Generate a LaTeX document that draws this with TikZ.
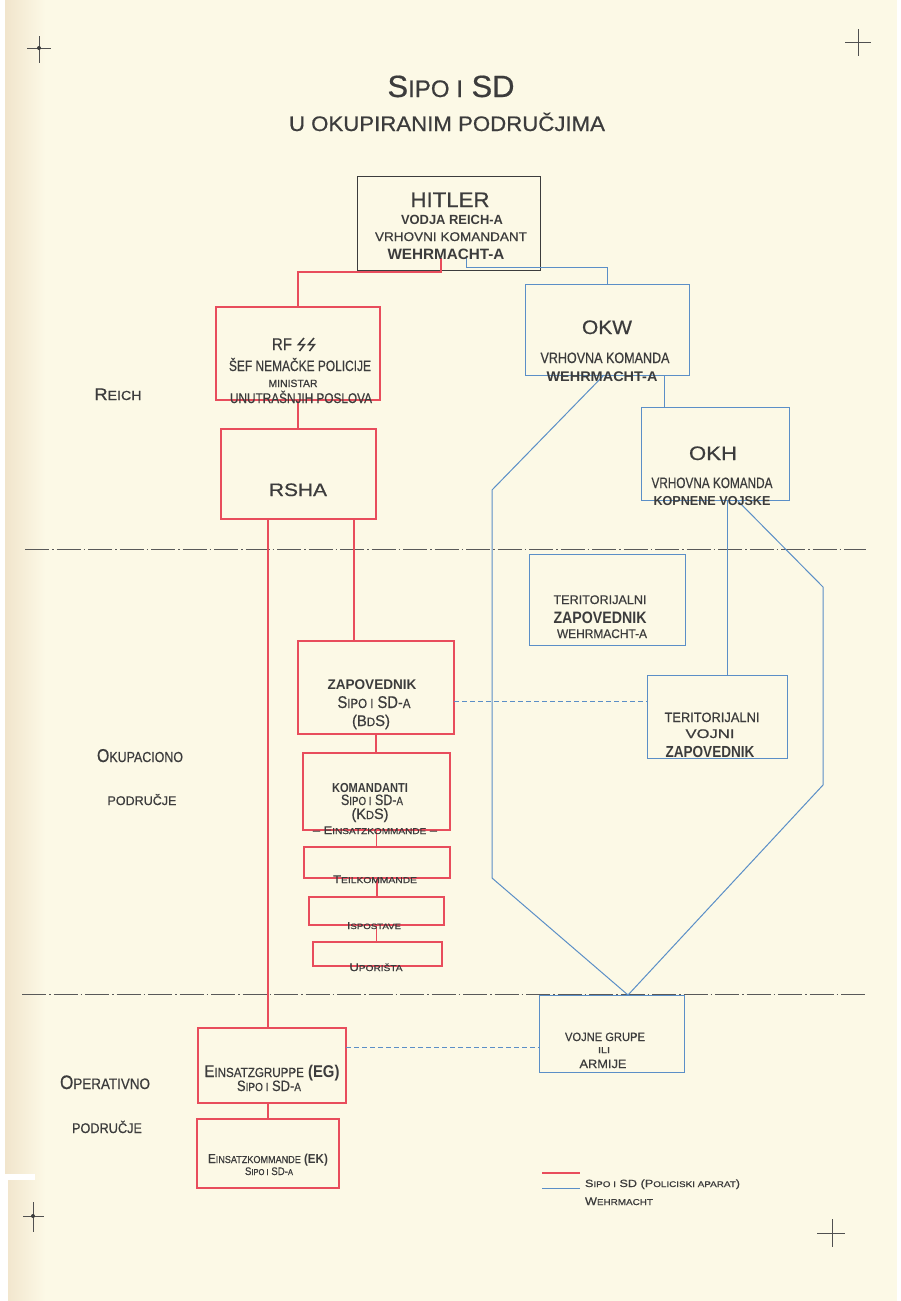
\documentclass[tikz,border=0pt]{standalone}
\usepackage{fontspec}
\setmainfont{Liberation Sans}[UprightFeatures={FakeBold=0.6}]
\usepackage{graphicx}
\usetikzlibrary{calc}
\definecolor{paper}{HTML}{FCF9E6}
\definecolor{paperedge}{HTML}{F1E5CC}
\definecolor{rl}{HTML}{E84D5C}
\definecolor{bl}{HTML}{5B8FC7}
\definecolor{ink}{HTML}{3C3C3C}
\makeatletter
\newcommand\sm[1]{{\fontsize{\fpeval{0.78*\f@size}}{0}\selectfont #1}}
\newcommand\fit[3]{{\fontsize{#2}{#2}\selectfont\resizebox{#1pt}{\height}{#3}}}
\makeatother
\tikzset{
  txt/.style={inner sep=0pt, outer sep=0pt, text=ink, anchor=base},
  ltxt/.style={inner sep=0pt, outer sep=0pt, text=ink, anchor=base west},
  rbox/.style={draw=rl, line width=1.2pt, inner sep=0pt, outer sep=0pt, anchor=north west},
  bbox/.style={draw=bl, line width=1pt, inner sep=0pt, outer sep=0pt, anchor=north west},
  kbox/.style={draw=ink, line width=1pt, inner sep=0pt, outer sep=0pt, anchor=north west},
  redl/.style={draw=rl, line width=1.2pt},
  bluel/.style={draw=bl, line width=1pt},
  bdash/.style={draw=bl, line width=0.8pt, dash pattern=on 5pt off 3pt},
  divider/.style={draw=ink!85, line width=1pt, dash pattern=on 24pt off 3pt on 1.5pt off 3pt},
  cross/.style={draw=ink!90, line width=0.9pt},
}
\begin{document}
\begin{tikzpicture}[x=1pt,y=-1pt]
\useasboundingbox (0,0) rectangle (900,1301);
\fill[paper] (0,0) rectangle (900,1301);
\shade[left color=paperedge, right color=paper] (5,0) rectangle (45,1301);
\fill[white] (0,0) rectangle (5,1301);
\fill[white] (0,1174) rectangle (35,1180);
\fill[white] (0,1180) rectangle (8,1301);
\fill[white] (897,0) rectangle (900,1301);

% corner marks
\draw[cross] (39,36) -- (39,63) (27,48) -- (51,48);
\fill[ink] (39,48) circle (2pt);
\draw[cross] (858,29) -- (858,56) (845,42) -- (871,42);
\draw[cross] (33,1202) -- (33,1232) (23,1216) -- (44,1216);
\fill[ink] (33,1216) circle (2pt);
\draw[cross] (832,1219) -- (832,1247) (817,1233) -- (845,1233);

% title
\node[txt] (title1) at (451,97) {\fit{127}{30.7}{S\sm{IPO I} SD}};
\node[txt] (title2) at (447,131) {\fit{316}{21}{U OKUPIRANIM PODRUČJIMA}};

% dividers
\coordinate (d1a) at (25,549); \coordinate (d1b) at (866,549);
\coordinate (d2a) at (22,994); \coordinate (d2b) at (866,994);
\draw[divider] (d1a) -- (d1b);
\draw[divider] (d2a) -- (d2b);

% boxes
\node[kbox, minimum width=183pt, minimum height=94pt] (hitler) at (357,176) {};
\node[rbox, minimum width=164pt, minimum height=93pt] (rf) at (216,307) {};
\node[rbox, minimum width=155pt, minimum height=90pt] (rsha) at (221,429) {};
\node[bbox, minimum width=164pt, minimum height=91pt] (okw) at (525,284) {};
\node[bbox, minimum width=148pt, minimum height=93pt] (okh) at (641,407) {};
\node[bbox, minimum width=156pt, minimum height=91pt] (tzw) at (529,554) {};
\node[bbox, minimum width=140pt, minimum height=83pt] (tv) at (647,675) {};
\node[rbox, minimum width=156pt, minimum height=93pt] (bds) at (298,641) {};
\node[rbox, minimum width=147pt, minimum height=77pt] (kds) at (303,753) {};
\node[rbox, minimum width=146pt, minimum height=31pt] (teil) at (304,847) {};
\node[rbox, minimum width=135pt, minimum height=28pt] (isp) at (309,897) {};
\node[rbox, minimum width=129pt, minimum height=24pt] (upo) at (313,942) {};
\node[rbox, minimum width=148pt, minimum height=75pt] (eg) at (198,1028) {};
\node[rbox, minimum width=142pt, minimum height=69pt] (ek) at (197,1119) {};
\node[bbox, minimum width=145pt, minimum height=77pt] (vg) at (539,995) {};

% guide coordinates
\coordinate (hR) at (441,258);
\coordinate (hB) at (466,258);
\coordinate (gx354) at (354,0);
\coordinate (gx664) at (664,0);
\coordinate (gx727) at (727,0);
\coordinate (okwd) at (604,375);
\coordinate (lb1) at (492,490);
\coordinate (lb2) at (492,878);
\coordinate (okhd) at (737,500);
\coordinate (rb1) at (823,587);
\coordinate (rb2) at (823,785);
\coordinate (vgm) at (628,995);
\coordinate (gy701) at (0,701);
\coordinate (gy1047) at (0,1047);

% red connectors
\draw[redl] (hR) -- ++(0,14) -| (rf.north);
\draw[redl] (rf.south) -- (rf.south |- rsha.north);
\draw[redl] (rsha.south -| ek.north) -- (eg.north -| ek.north);
\draw[redl] (eg.south -| ek.north) -- (ek.north);
\draw[redl] (rsha.south -| gx354) -- (bds.north -| gx354);
\draw[redl] (bds.south) -- (bds.south |- kds.north);
\draw[redl] (kds.south) -- (kds.south |- teil.north);
\draw[redl] (teil.south) -- (teil.south |- isp.north);
\draw[redl] (isp.south) -- (isp.south |- upo.north);

% blue connectors
\draw[bluel] (hB) -- ++(0,9) -| (okw.north);
\draw[bluel] (okw.south -| gx664) -- (okh.north -| gx664);
\draw[bluel] (okh.south -| gx727) -- (tv.north -| gx727);
\draw[bluel] (okwd) -- (lb1) -- (lb2) -- (vgm);
\draw[bluel] (okhd) -- (rb1) -- (rb2) -- (vgm);
\draw[bdash] (bds.east |- gy701) -- (tv.west |- gy701);
\draw[bdash] (eg.east |- gy1047) -- (vg.west |- gy1047);

% HITLER texts
\node[txt] (h1) at (450,207) {\fit{79}{21}{HITLER}};
\node[txt] (h2) at (452,224) {\fit{102}{13.3}{\bfseries VODJA REICH-A}};
\node[txt] (h3) at (451,241) {\fit{152}{12.6}{VRHOVNI KOMANDANT}};
\node[txt] (h4) at (446,259) {\fit{117}{15}{\bfseries WEHRMACHT-A}};

% RF SS
\node[txt] (rf1) at (282,350) {\fit{20}{17}{RF}};
\draw[ink, line width=1.5pt, line join=miter] (304,338) -- (298.5,344.5) -- (304.5,344.5) -- (299.5,351);
\draw[ink, line width=1.5pt, line join=miter] (314,338) -- (308.5,344.5) -- (314.5,344.5) -- (309.5,351);
\node[txt] (rf2) at (300,371) {\fit{142}{15}{ŠEF NEMAČKE POLICIJE}};
\node[txt] (rf3) at (293,387) {\fit{49}{10.5}{MINISTAR}};
\node[txt] (rf4) at (301,403) {\fit{142}{14}{UNUTRAŠNJIH POSLOVA}};

\node[txt] (rsha1) at (298,496) {\fit{58}{18}{RSHA}};

% OKW / OKH
\node[txt] (okw1) at (607,334) {\fit{50}{19.5}{OKW}};
\node[txt] (okw2) at (605,363) {\fit{129}{15}{VRHOVNA KOMANDA}};
\node[txt] (okw3) at (602,381) {\fit{111}{14}{\bfseries WEHRMACHT-A}};
\node[txt] (okh1) at (713,460) {\fit{48}{19.5}{OKH}};
\node[txt] (okh2) at (712,488) {\fit{121}{15}{VRHOVNA KOMANDA}};
\node[txt] (okh3) at (712,505) {\fit{117}{13}{\bfseries KOPNENE VOJSKE}};

% territorial
\node[txt] (tzw1) at (600,604) {\fit{93}{12.5}{TERITORIJALNI}};
\node[txt] (tzw2) at (600,623) {\fit{93}{16.5}{\bfseries ZAPOVEDNIK}};
\node[txt] (tzw3) at (602,638) {\fit{90}{12.5}{WEHRMACHT-A}};
\node[txt] (tv1) at (712,722) {\fit{95}{13.5}{TERITORIJALNI}};
\node[txt] (tv2) at (710,738) {\fit{49}{12.5}{VOJNI}};
\node[txt] (tv3) at (710,757) {\fit{89}{16}{\bfseries ZAPOVEDNIK}};

% BdS / KdS
\node[txt] (bds1) at (372,689) {\fit{89}{14}{\bfseries ZAPOVEDNIK}};
\node[txt] (bds2) at (374,708) {\fit{73}{17}{S\sm{IPO I} SD-\sm{A}}};
\node[txt] (bds3) at (371,726) {\fit{38}{15.5}{(B\sm{D}S)}};
\node[txt] (kds1) at (370,792) {\fit{76}{13}{\bfseries KOMANDANTI}};
\node[txt] (kds2) at (372,805) {\fit{62}{15}{S\sm{IPO I} SD-\sm{A}}};
\node[txt] (kds3) at (370,819) {\fit{37}{15}{(K\sm{D}S)}};
\node[txt] (kds4) at (375,834) {\fit{124}{11}{– E\sm{INSATZKOMMANDE} –}};
\node[txt] (teil1) at (375,883) {\fit{84}{11}{T\sm{EILKOMMANDE}}};
\node[txt] (isp1) at (374,929) {\fit{54}{10}{I\sm{SPOSTAVE}}};
\node[txt] (upo1) at (376,971) {\fit{53}{11}{U\sm{PORIŠTA}}};

% EG / EK
\node[txt] (eg1) at (272,1077) {\fit{135}{17}{E\sm{INSATZGRUPPE} \bfseries(EG)}};
\node[txt] (eg2) at (269,1091) {\fit{64}{15}{S\sm{IPO I} SD-\sm{A}}};
\node[txt] (ek1) at (268,1163) {\fit{120}{13}{E\sm{INSATZKOMMANDE} \bfseries(EK)}};
\node[txt] (ek2) at (269,1175) {\fit{48}{11}{S\sm{IPO I} SD-\sm{A}}};

% VG
\node[txt] (vg1) at (605,1041) {\fit{80}{12}{VOJNE GRUPE}};
\node[txt] (vg2) at (604,1053) {\fit{12}{8.5}{ILI}};
\node[txt] (vg3) at (603,1068) {\fit{47}{12}{ARMIJE}};

% left labels
\node[txt] (lreich) at (118,400) {\fit{47}{16.8}{R\sm{EICH}}};
\node[txt] (lokup) at (140,762) {\fit{86}{18.6}{O\sm{KUPACIONO}}};
\node[txt] (lpod1) at (142,805) {\fit{69}{12.6}{PODRUČJE}};
\node[txt] (loper) at (105,1089) {\fit{90}{19.5}{O\sm{PERATIVNO}}};
\node[txt] (lpod2) at (107,1133) {\fit{70}{14}{PODRUČJE}};

% legend
\coordinate (lr1) at (542,1173); \coordinate (lr2) at (580,1173);
\coordinate (lb3) at (542,1188); \coordinate (lb4) at (580,1188);
\draw[draw=rl, line width=2.2pt] (lr1) -- (lr2);
\draw[bluel] (lb3) -- (lb4);
\node[ltxt] (leg1) at (585,1187) {\fit{155}{10.5}{S\sm{IPO I} SD (P\sm{OLICISKI APARAT})}};
\node[ltxt] (leg2) at (585,1205) {\fit{68}{11}{W\sm{EHRMACHT}}};
\end{tikzpicture}
\end{document}
